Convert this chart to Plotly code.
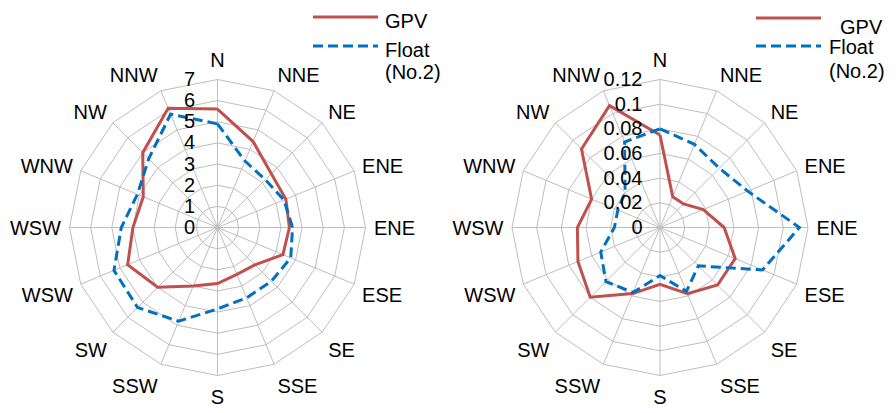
import plotly.graph_objects as go

# ---- data ----
direction_ids = ["N", "NNE", "NE", "ENE", "E", "ESE", "SE", "SSE",
                 "S", "SSW", "SW", "WSW", "W", "WNW", "NW", "NNW"]
direction_labels = ["N", "NNE", "NE", "ENE", "ENE", "ESE", "SE", "SSE",
                    "S", "SSW", "SW", "WSW", "WSW", "WNW", "NW", "NNW"]

gpv_left = [5.6, 4.4, 3.6, 3.5, 3.4, 3.35, 2.5, 2.4,
            2.65, 3.0, 4.0, 4.6, 4.0, 3.8, 5.0, 6.1]
float_left = [4.9, 3.4, 3.2, 3.4, 3.55, 3.75, 3.6, 3.6,
              3.85, 4.8, 5.35, 5.3, 4.55, 4.1, 4.6, 5.8]

gpv_right = [0.075, 0.027, 0.027, 0.038, 0.052, 0.066, 0.066, 0.058,
             0.046, 0.058, 0.080, 0.072, 0.067, 0.060, 0.090, 0.107]
float_right = [0.080, 0.073, 0.068, 0.077, 0.113, 0.090, 0.044, 0.056,
               0.039, 0.057, 0.062, 0.052, 0.037, 0.037, 0.040, 0.075]

left_ticks = [0, 1, 2, 3, 4, 5, 6, 7]
left_ticktext = ["0", "1", "2", "3", "4", "5", "6", "7"]
right_ticks = [0, 0.02, 0.04, 0.06, 0.08, 0.10, 0.12]
right_ticktext = ["0", "0.02", "0.04", "0.06", "0.08", "0.1", "0.12"]

series_names = ["GPV", "Float (No.2)"]

RED = "#C0504D"
BLUE = "#0070C0"
GRID = "#BEBEBE"
FONT = "Liberation Sans, Arial, sans-serif"

W, H = 896, 413


def closed(v):
    return list(v) + [v[0]]


fig = go.Figure()
for sub, gpv, flt in [("polar", gpv_left, float_left), ("polar2", gpv_right, float_right)]:
    fig.add_trace(go.Scatterpolar(r=closed(gpv), theta=closed(direction_ids), mode="lines",
                                  line=dict(color=RED, width=3), name=series_names[0],
                                  subplot=sub))
    fig.add_trace(go.Scatterpolar(r=closed(flt), theta=closed(direction_ids), mode="lines",
                                  line=dict(color=BLUE, width=3, dash="10px,5px"),
                                  name=series_names[1], subplot=sub))


def polar_cfg(cx, cy, rad, rmax, tv, tt, rpad):
    return dict(
        domain=dict(x=[(cx - rad) / W, (cx + rad) / W],
                    y=[1 - (cy + rad) / H, 1 - (cy - rad) / H]),
        bgcolor="white",
        gridshape="linear",
        angularaxis=dict(type="category", categoryorder="array", categoryarray=direction_ids,
                         rotation=90, direction="clockwise", tickmode="array",
                         tickvals=direction_ids, ticktext=direction_labels, showline=True,
                         linecolor=GRID, linewidth=1, gridcolor=GRID, gridwidth=1,
                         ticks="outside", ticklen=4, tickcolor="rgba(0,0,0,0)",
                         tickfont=dict(size=20, color="black", family=FONT)),
        radialaxis=dict(range=[0, rmax], tickmode="array", tickvals=tv, ticktext=tt,
                        angle=90, side="counterclockwise", showline=False,
                        gridcolor=GRID, gridwidth=1, ticks="outside", ticklen=rpad,
                        tickcolor="rgba(0,0,0,0)", tickangle=90,
                        tickfont=dict(size=20, color="black", family=FONT)),
    )


fig.update_layout(
    width=W, height=H,
    margin=dict(l=0, r=0, t=0, b=0),
    paper_bgcolor="white",
    showlegend=False,
    font=dict(family=FONT, color="black", size=20),
    polar=polar_cfg(217.5, 227.5, 148, 7, left_ticks, left_ticktext, 15),
    polar2=polar_cfg(660, 227.5, 148, 0.12, right_ticks, right_ticktext, 10),
)


def px(x):
    return x / W


def py(y):
    return 1 - y / H


# manual legends (long line samples like the reference)
shapes = []
annotations = []
for (x0, x1, yr, yb, tx_g, ty_g, tx_f, ty_f, ty_n) in [
        (313, 378, 17, 46, 383, 21.5, 383, 50, 72.5),
        (756, 821, 18, 46, 838, 27, 827, 47.5, 71)]:
    shapes.append(dict(type="line", xref="paper", yref="paper", x0=px(x0), x1=px(x1),
                       y0=py(yr), y1=py(yr), line=dict(color=RED, width=3)))
    shapes.append(dict(type="line", xref="paper", yref="paper", x0=px(x0), x1=px(x1),
                       y0=py(yb), y1=py(yb), line=dict(color=BLUE, width=3, dash="10px,5px")))
    annotations.append(dict(text="GPV", x=px(tx_g), y=py(ty_g), xref="paper", yref="paper",
                            xanchor="left", yanchor="middle", showarrow=False,
                            font=dict(size=20, color="black")))
    annotations.append(dict(text="Float", x=px(tx_f), y=py(ty_f), xref="paper", yref="paper",
                            xanchor="left", yanchor="middle", showarrow=False,
                            font=dict(size=20, color="black")))
    annotations.append(dict(text="(No.2)", x=px(tx_f), y=py(ty_n), xref="paper", yref="paper",
                            xanchor="left", yanchor="middle", showarrow=False,
                            font=dict(size=20, color="black")))

fig.update_layout(shapes=shapes, annotations=annotations)

fig.write_html("out.html")
